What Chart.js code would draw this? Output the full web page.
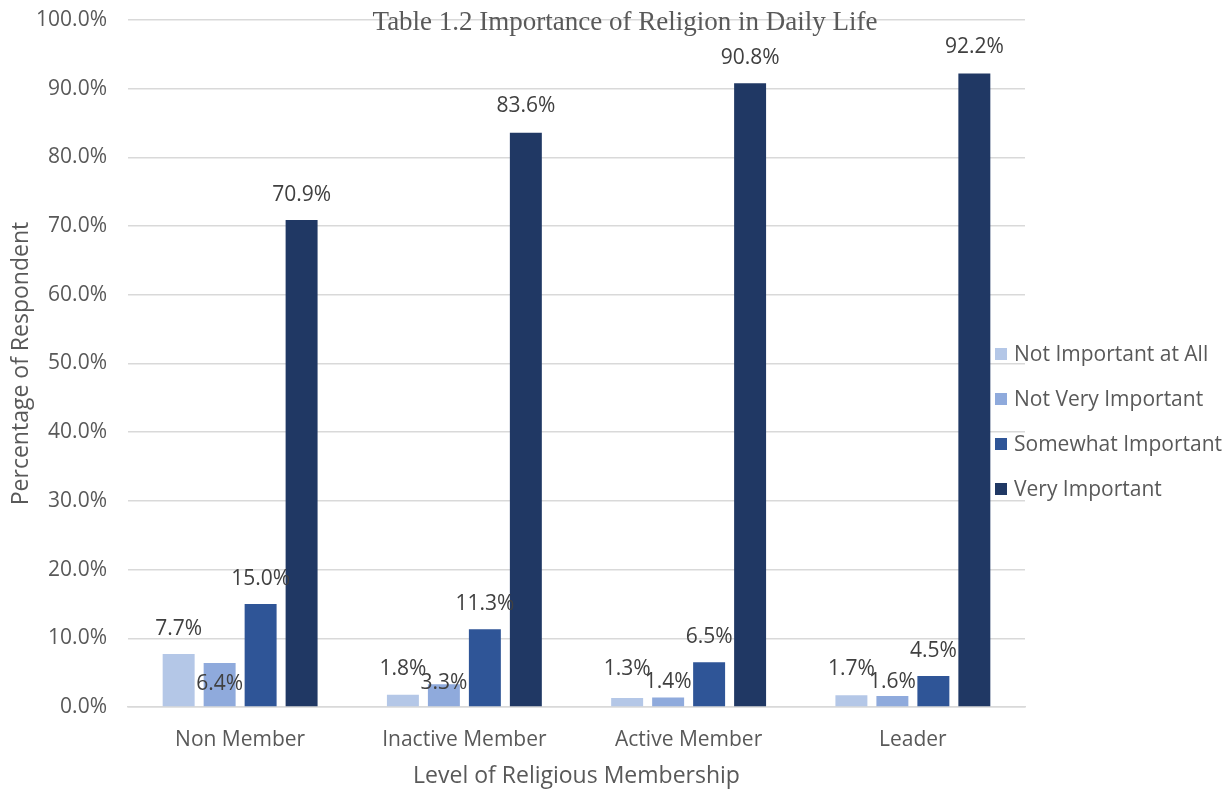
<!DOCTYPE html>
<html>
<head>
<meta charset="utf-8">
<title>Importance of Religion in Daily Life</title>
<script src="https://cdn.jsdelivr.net/npm/chart.js@4.4.1/dist/chart.umd.min.js"></script>
<style>
    html, body { margin: 0; padding: 0; background: #ffffff; }
    #chartContainer { width: 1230px; height: 791px; }
</style>
</head>
<body>
<div id="chartContainer"><canvas id="chart_canvas"></canvas></div>
<script>
// membership levels on the x axis
var categories = ['Non Member', 'Inactive Member', 'Active Member', 'Leader'];
var seriesNames = ['Not Important at All', 'Not Very Important', 'Somewhat Important', 'Very Important'];

// percentages of respondents per answer
var notImportantAtAll = [7.7, 1.8, 1.3, 1.7];
var notVeryImportant = [6.4, 3.3, 1.4, 1.6];
var somewhatImportant = [15.0, 11.3, 6.5, 4.5];
var veryImportant = [70.9, 83.6, 90.8, 92.2];

var yTicks = [0, 10, 20, 30, 40, 50, 60, 70, 80, 90, 100];

var barColors = ['#b4c7e7', '#8faadc', '#2f5597', '#203864'];
// how far (px) each value label sits above its bar top
var labelLift = [
    [25, 26, 29, 26],
    [-21, 1, 15, 14],
    [25, 25, 25, 25],
    [25, 27, 25, 27]
];

var textColor = '#595959';
var fontName = "'Open Sans', 'Noto Sans', sans-serif";

var valueLabels = {
    id: 'valueLabels',
    afterDatasetsDraw: function (chart) {
        var ctx = chart.ctx;
        ctx.save();
        ctx.font = '21px ' + fontName;
        ctx.fillStyle = '#404040';
        ctx.textAlign = 'center';
        ctx.textBaseline = 'middle';
        chart.data.datasets.forEach(function (ds, i) {
            var meta = chart.getDatasetMeta(i);
            meta.data.forEach(function (bar, j) {
                ctx.fillText(ds.data[j].toFixed(1) + '%', bar.x, bar.y - labelLift[i][j]);
            });
        });
        ctx.restore();
    }
};

// title and legend sit over the plot area, so they are painted last
var overlay = {
    id: 'overlay',
    afterDraw: function (chart) {
        var ctx = chart.ctx;
        ctx.save();
        ctx.font = '27px "Liberation Serif", "Times New Roman", serif';
        ctx.fillStyle = textColor;
        ctx.textAlign = 'center';
        ctx.textBaseline = 'middle';
        ctx.fillText('Table 1.2 Importance of Religion in Daily Life', 625, 23);

        ctx.font = '21px ' + fontName;
        ctx.textAlign = 'left';
        chart.data.datasets.forEach(function (ds, i) {
            var y = 354 + i * 45;
            ctx.fillStyle = ds.backgroundColor;
            ctx.fillRect(995, y - 6, 12, 12);
            ctx.fillStyle = textColor;
            ctx.fillText(ds.label, 1014, y + 1);
        });
        ctx.restore();
    }
};

var seriesValues = [notImportantAtAll, notVeryImportant, somewhatImportant, veryImportant];
var datasets = [];
for (var i = 0; i < seriesValues.length; i++) {
    datasets.push({
        label: seriesNames[i],
        data: seriesValues[i],
        backgroundColor: barColors[i],
        categoryPercentage: 0.731,
        barPercentage: 0.78
    });
}

var myChart = new Chart('chart_canvas', {
    type: 'bar',
    data: {
        labels: categories,
        datasets: datasets
    },
    options: {
        responsive: true,
        maintainAspectRatio: false,
        animation: false,
        layout: { padding: { top: 20, right: 205, bottom: 0, left: 0 } },
        plugins: {
            legend: { display: false },
            title: { display: false },
            tooltip: { enabled: false }
        },
        scales: {
            x: {
                grid: { display: false, drawTicks: false },
                border: { color: '#d9d9d9', width: 1.5 },
                ticks: { color: textColor, font: { family: fontName, size: 21 }, padding: 20 },
                title: {
                    display: true,
                    text: 'Level of Religious Membership',
                    color: textColor,
                    font: { family: fontName, size: 23 },
                    padding: { top: 0, bottom: 1 }
                },
                afterFit: function (scale) { scale.height = 84; }
            },
            y: {
                min: 0,
                max: 100,
                afterBuildTicks: function (scale) {
                    scale.ticks = yTicks.map(function (v) { return { value: v }; });
                },
                // invisible tick marks keep the labels clear of the plot
                grid: { color: '#d9d9d9', lineWidth: 1.5, drawTicks: true, tickLength: 18, tickColor: 'rgba(0,0,0,0)' },
                border: { display: false },
                ticks: {
                    color: textColor,
                    font: { family: fontName, size: 21 },
                    padding: 3,
                    callback: function (v) { return v.toFixed(1) + '%'; }
                },
                title: {
                    display: true,
                    text: 'Percentage of Respondent',
                    color: textColor,
                    font: { family: fontName, size: 23 },
                    padding: { top: 8, bottom: 0 }
                },
                afterFit: function (scale) { scale.width = 128; }
            }
        }
    },
    plugins: [valueLabels, overlay]
});
</script>
</body>
</html>
